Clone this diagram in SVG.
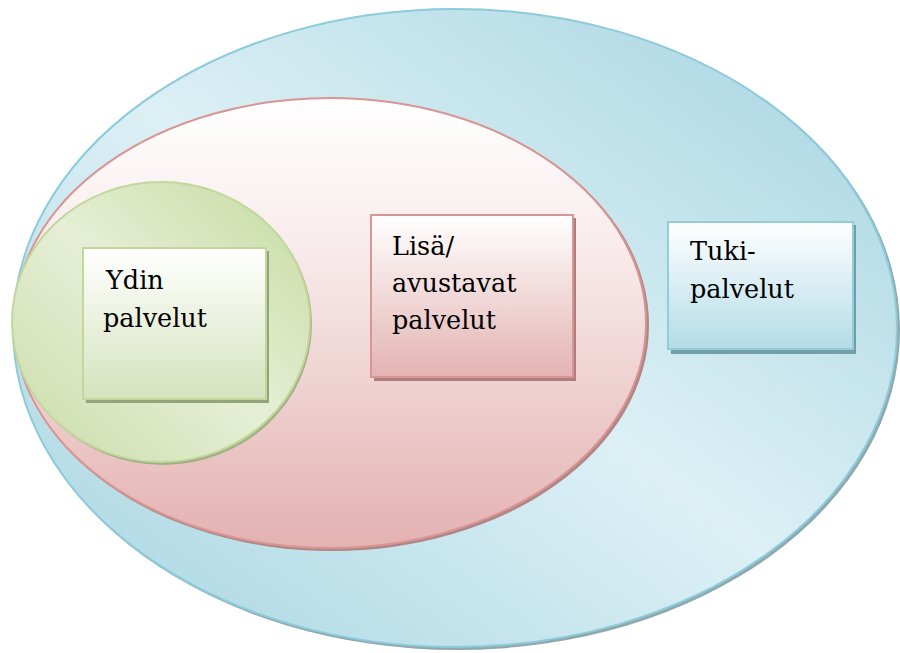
<svg xmlns="http://www.w3.org/2000/svg" width="900" height="653" viewBox="0 0 900 653">
<defs>
<linearGradient id="gBlue" x1="1" y1="0" x2="0" y2="1">
<stop offset="0" stop-color="#a4d3e0"/>
<stop offset="0.5" stop-color="#dcf0f5"/>
<stop offset="1" stop-color="#a6d4e1"/>
</linearGradient>
<linearGradient id="gPink" x1="0" y1="0" x2="0" y2="1">
<stop offset="0" stop-color="#ffffff"/>
<stop offset="0.35" stop-color="#f8eaea"/>
<stop offset="1" stop-color="#e3b2b1"/>
</linearGradient>
<linearGradient id="gGreen" x1="1" y1="0" x2="0" y2="1">
<stop offset="0" stop-color="#c5da9f"/>
<stop offset="0.5" stop-color="#e6efd6"/>
<stop offset="1" stop-color="#c9dca8"/>
</linearGradient>
<linearGradient id="bGreen" x1="0" y1="0" x2="0" y2="1">
<stop offset="0" stop-color="#ffffff"/>
<stop offset="1" stop-color="#d5e3bd"/>
</linearGradient>
<linearGradient id="bPink" x1="0" y1="0" x2="0" y2="1">
<stop offset="0" stop-color="#ffffff"/>
<stop offset="1" stop-color="#e3b3b2"/>
</linearGradient>
<linearGradient id="bBlue" x1="0" y1="0" x2="0" y2="1">
<stop offset="0" stop-color="#ffffff"/>
<stop offset="1" stop-color="#b3dce7"/>
</linearGradient>
</defs>
<style>
.t { font-family: "DejaVu Serif", "Liberation Serif", serif; font-size: 25.5px; fill: #000; }
</style>
<g id="tukipalvelut-area">
<ellipse cx="457" cy="330" rx="443" ry="320" fill="#8fa8ae"/>
<ellipse cx="455" cy="328" rx="442" ry="319" fill="url(#gBlue)" stroke="#8ccbdb" stroke-width="2"/>
</g>
<g id="lisapalvelut-area">
<ellipse cx="332" cy="325" rx="317" ry="226" fill="#b08586"/>
<ellipse cx="330" cy="323" rx="316" ry="225" fill="url(#gPink)" stroke="#d99594" stroke-width="2"/>
</g>
<g id="ydinpalvelut-area">
<ellipse cx="163" cy="324" rx="149" ry="141" fill="#a2b185"/>
<ellipse cx="161" cy="322" rx="149" ry="140" fill="url(#gGreen)" stroke="#c3d69b" stroke-width="2"/>
</g>
<g id="ydin">
<rect x="86" y="251" width="183" height="152" fill="#94a47a"/>
<rect x="83" y="248" width="183" height="151" fill="url(#bGreen)" stroke="#c3d69b" stroke-width="2"/>
<text class="t" x="106" y="289">Ydin</text>
<text class="t" x="103" y="327">palvelut</text>
</g>
<g id="lisa">
<rect x="374" y="218" width="202" height="163" fill="#ad7e7e"/>
<rect x="371" y="215" width="202" height="162" fill="url(#bPink)" stroke="#d99594" stroke-width="2"/>
<text class="t" x="392" y="255">Lisä/</text>
<text class="t" x="392" y="292">avustavat</text>
<text class="t" x="392" y="329">palvelut</text>
</g>
<g id="tuki">
<rect x="671" y="225" width="185" height="129" fill="#739da8"/>
<rect x="668" y="222" width="185" height="127" fill="url(#bBlue)" stroke="#92cddc" stroke-width="2"/>
<text class="t" x="690" y="260">Tuki-</text>
<text class="t" x="690" y="298">palvelut</text>
</g>
<g id="connectors"/>
</svg>
